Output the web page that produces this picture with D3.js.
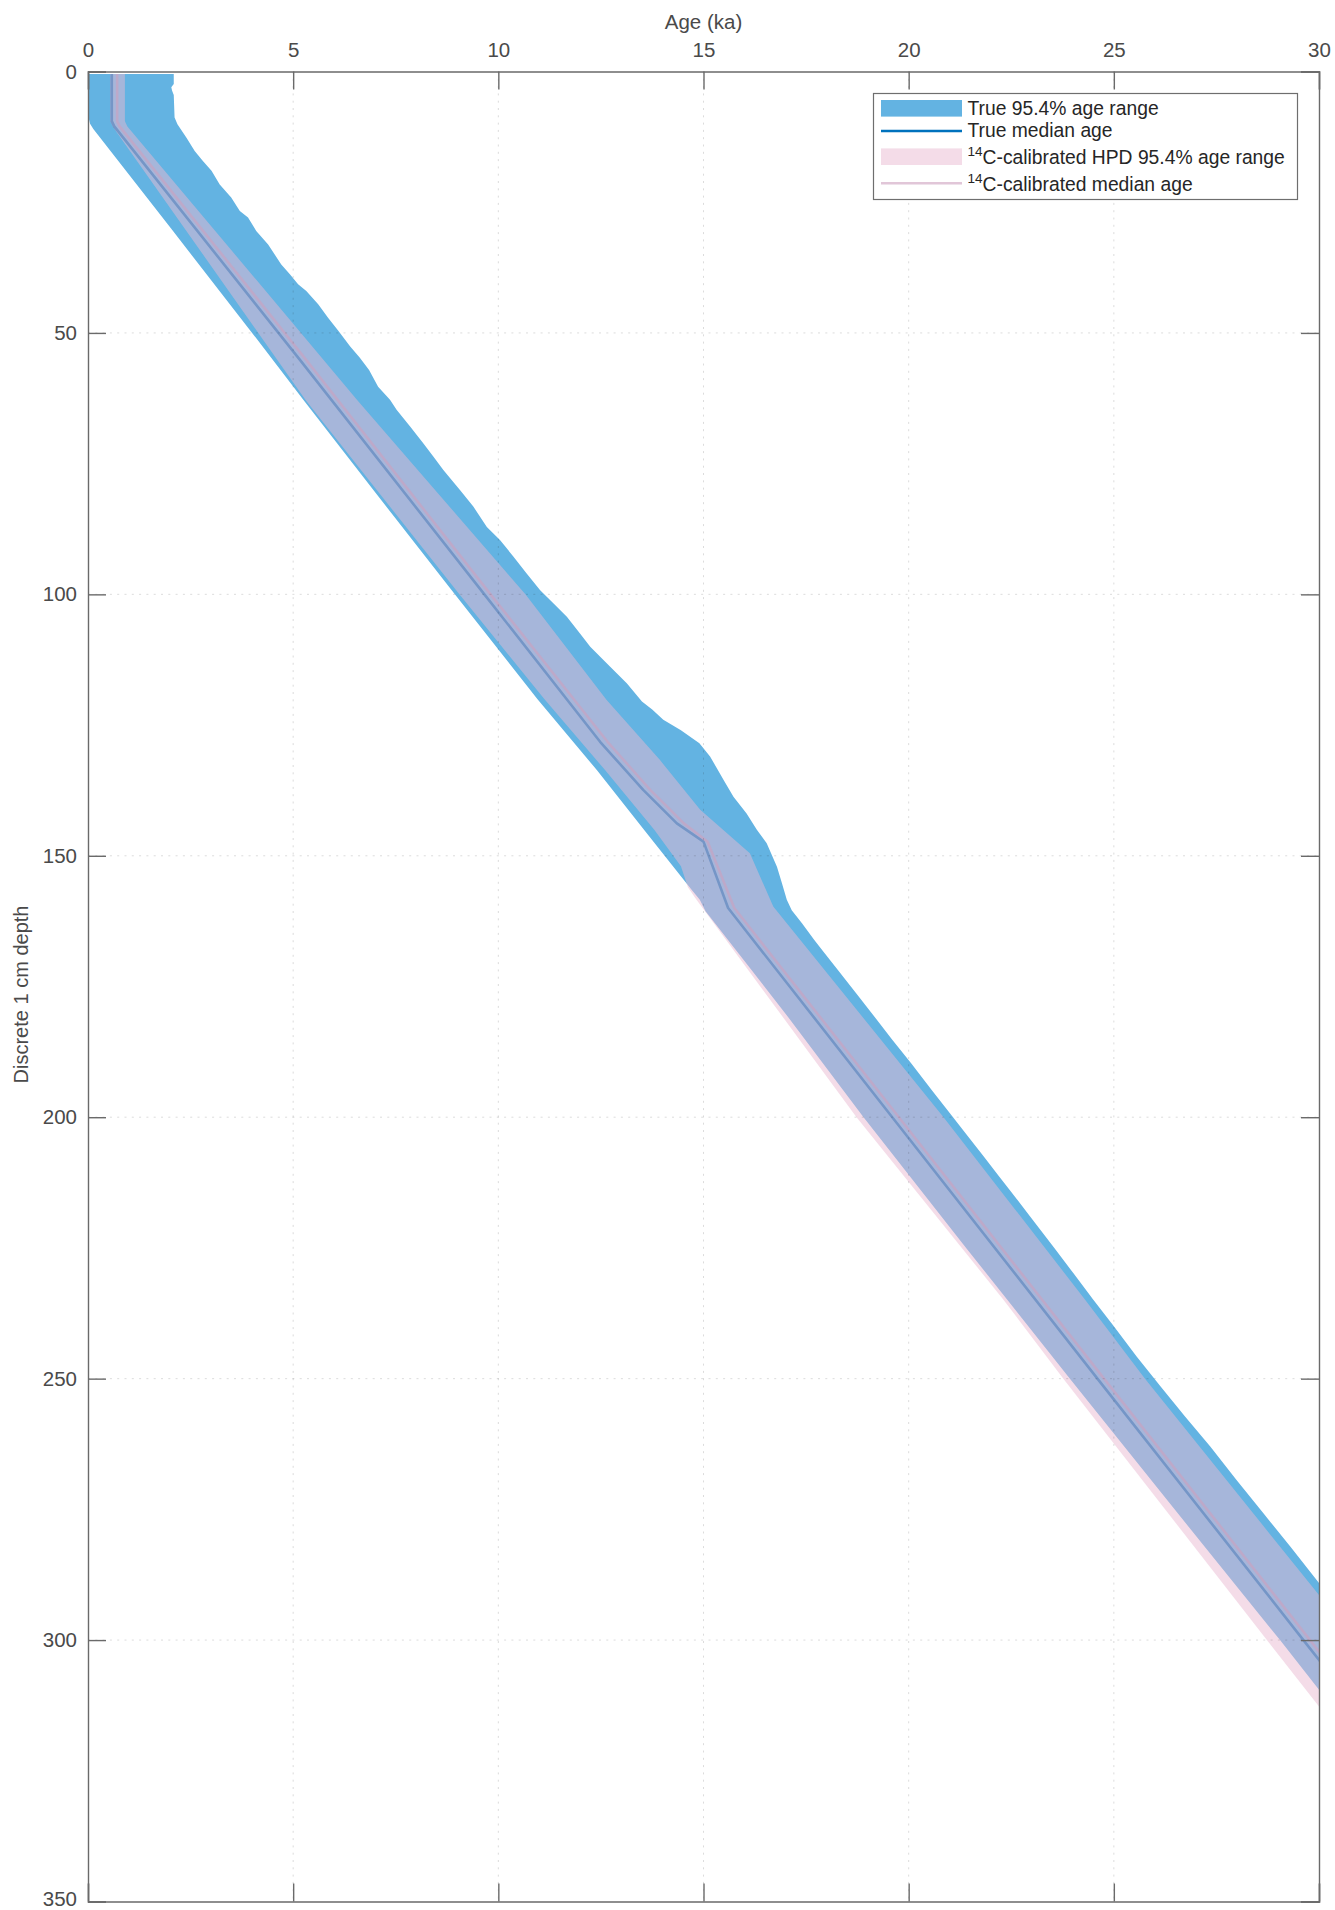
<!DOCTYPE html>
<html>
<head>
<meta charset="utf-8">
<script src="https://cdn.jsdelivr.net/npm/d3@7"></script>
<style>
  html, body { margin: 0; padding: 0; background: #fff; }
  svg { display: block; font-family: "Liberation Sans", Arial, Helvetica, sans-serif; }
</style>
</head>
<body>
<svg id="chart" width="1335" height="1910"></svg>
<script>
// ---- Age-depth model data (depth in cm, age in ka) ----

// True 95.4% range: older (right) edge
const trueHiDepth = [0.5, 2.4, 3.0, 3.7, 4.5, 8.8, 10.1, 12.65, 15.2, 17.1, 19.0, 21.6, 24.1, 26.7, 27.9, 30.5, 33.1, 35.0, 36.9, 38.8, 40.7, 42.0, 44.5, 47.1, 49.6, 52.6, 54.7, 57.1, 60.3, 62.8, 64.7, 67.9, 71.1, 73.7, 76.2, 80.1, 83.2, 87.1, 89.6, 92.8, 96.0, 99.2, 101.7, 104.3, 107.5, 110.0, 113.8, 117.0, 120.5, 122.0, 124.0, 126.0, 128.5, 131.0, 135.5, 138.7, 141.9, 145.0, 147.6, 152.1, 155.2, 158.4, 160.4, 162.9, 166.1, 168.1, 171.8, 176.3, 180.2, 185.2, 189.7, 194.9, 199.3, 203.2, 207.5, 211.4, 215.3, 219.7, 225.0, 230.0, 234.9, 240.0, 245.8, 251.5, 257.3, 263.0, 269.4, 275.8, 282.1, 289.1, 300.0, 320.0];
const trueHiAge = [2.09, 2.09, 2.03, 2.05, 2.09, 2.11, 2.18, 2.40, 2.60, 2.80, 3.01, 3.21, 3.49, 3.70, 3.90, 4.10, 4.39, 4.55, 4.71, 4.92, 5.12, 5.32, 5.61, 5.85, 6.10, 6.39, 6.62, 6.85, 7.07, 7.36, 7.52, 7.85, 8.17, 8.42, 8.66, 9.07, 9.39, 9.72, 10.04, 10.37, 10.69, 11.02, 11.34, 11.67, 11.99, 12.24, 12.72, 13.13, 13.50, 13.75, 14.02, 14.45, 14.90, 15.16, 15.49, 15.73, 16.05, 16.30, 16.54, 16.79, 16.91, 17.03, 17.15, 17.40, 17.70, 17.90, 18.27, 18.72, 19.11, 19.60, 20.06, 20.57, 21.01, 21.40, 21.83, 22.21, 22.60, 23.03, 23.55, 24.03, 24.50, 25.00, 25.56, 26.14, 26.74, 27.35, 27.99, 28.65, 29.30, 30.00, 31.10, 33.10];

// True 95.4% range: younger (left) edge
const trueLoDepth = [0.5, 9.0, 10.0, 11.0, 30.0, 50.0, 63.0, 80.0, 100.0, 120.0, 133.6, 145.0, 156.5, 158.4, 160.6, 180.0, 200.0, 225.0, 250.0, 275.0, 300.0, 320.0];
const trueLoAge = [0.02, 0.02, 0.05, 0.13, 2.02, 4.00, 5.27, 6.95, 8.94, 10.95, 12.40, 13.55, 14.71, 14.91, 15.05, 16.98, 18.90, 21.40, 23.93, 26.48, 29.05, 31.05];

// True median age
const trueMedDepth = [0.5, 9.5, 10.5, 55.2, 100.0, 128.2, 137.4, 143.8, 147.3, 160.0, 200.0, 250.0, 300.0, 320.0];
const trueMedAge = [0.58, 0.58, 0.64, 5.17, 9.66, 12.48, 13.53, 14.35, 15.00, 15.60, 19.60, 24.60, 29.62, 31.62];

// 14C-calibrated HPD 95.4% range: older (right) edge
const calHiDepth = [0.5, 9.5, 10.5, 63.0, 100.0, 120.2, 131.7, 141.2, 149.5, 159.7, 200.0, 234.9, 250.0, 291.4, 320.0];
const calHiAge = [0.90, 0.90, 0.96, 6.58, 10.66, 12.64, 13.94, 14.92, 16.13, 16.70, 20.85, 24.30, 25.76, 30.00, 32.90];

// 14C-calibrated HPD 95.4% range: younger (left) edge
const calLoDepth = [0.5, 9.5, 10.5, 50.0, 63.0, 100.0, 120.0, 133.6, 145.0, 152.0, 156.0, 158.4, 200.0, 234.9, 250.0, 300.0, 320.0];
const calLoAge = [0.54, 0.54, 0.60, 4.15, 5.32, 9.05, 11.12, 12.60, 13.80, 14.45, 14.62, 14.83, 18.73, 22.31, 23.77, 28.73, 30.73];

// 14C-calibrated median age
const calMedDepth = [0.5, 9.5, 10.5, 55.2, 100.0, 128.2, 137.4, 143.8, 147.3, 160.0, 200.0, 250.0, 300.0, 320.0];
const calMedAge = [0.71, 0.71, 0.77, 5.32, 9.81, 12.66, 13.70, 14.52, 15.10, 15.75, 19.76, 24.76, 29.78, 31.78];

// Axis ticks
const ageTicks = [0, 5, 10, 15, 20, 25, 30];
const depthTicks = [0, 50, 100, 150, 200, 250, 300, 350];

// Legend entries
const legendLabels = [
  { sup: "", text: "True 95.4% age range" },
  { sup: "", text: "True median age" },
  { sup: "14", text: "C-calibrated HPD 95.4% age range" },
  { sup: "14", text: "C-calibrated median age" }
];

// ---- Styling ----
const blueFill = "rgb(99,179,226)";
const blueLine = "#0072BD";
const pinkFill = "rgb(233,186,210)";
const pinkAlpha = 0.5;
const pinkLine = "rgb(205,160,190)";
const pinkLineAlpha = 0.6;
const axisColor = "#6a6a6a";
const textColor = "#4a4a4a";

const svg = d3.select("#chart");
const plotL = 88, plotR = 1319, plotT = 71.5, plotB = 1901.5;

const x = d3.scaleLinear().domain([0, 30]).range([plotL, plotR]);
const y = d3.scaleLinear().domain([0, 350]).range([plotT, plotB]);

svg.append("defs").append("clipPath").attr("id", "plotClip")
  .append("rect").attr("x", plotL).attr("y", plotT)
  .attr("width", plotR - plotL).attr("height", plotB - plotT);

const plot = svg.append("g").attr("clip-path", "url(#plotClip)");

const zip = (ds, as) => ds.map((d, i) => [as[i], d]);
const line = d3.line().x(p => x(p[0])).y(p => y(p[1]));

function band(hiD, hiA, loD, loA) {
  const pts = zip(hiD, hiA).concat(zip(loD, loA).reverse());
  return line(pts) + "Z";
}

// True range band
plot.append("path")
  .attr("d", band(trueHiDepth, trueHiAge, trueLoDepth, trueLoAge))
  .attr("fill", blueFill);

// True median
plot.append("path")
  .attr("d", line(zip(trueMedDepth, trueMedAge)))
  .attr("fill", "none").attr("stroke", blueLine).attr("stroke-width", 2.6)
  .attr("stroke-linejoin", "round");

// Calibrated HPD band (semi-transparent)
plot.append("path")
  .attr("d", band(calHiDepth, calHiAge, calLoDepth, calLoAge))
  .attr("fill", pinkFill).attr("fill-opacity", pinkAlpha);

// Calibrated median
plot.append("path")
  .attr("d", line(zip(calMedDepth, calMedAge)))
  .attr("fill", "none").attr("stroke", pinkLine).attr("stroke-opacity", pinkLineAlpha)
  .attr("stroke-width", 2.6).attr("stroke-linejoin", "round");

// Dotted grid, drawn above the data
const grid = svg.append("g").attr("stroke", "rgba(38,38,38,0.16)")
  .attr("stroke-width", 1).attr("stroke-dasharray", "2,5.3");
ageTicks.filter(t => t > 0 && t < 30).forEach(t => {
  grid.append("line").attr("x1", x(t)).attr("x2", x(t)).attr("y1", plotT).attr("y2", plotB);
});
depthTicks.filter(t => t > 0 && t < 350).forEach(t => {
  grid.append("line").attr("x1", plotL).attr("x2", plotR).attr("y1", y(t)).attr("y2", y(t));
});

// Axes: top age axis, left depth axis, mirrored ticks on the other sides
const tickLen = 18;
const xTop = d3.axisTop(x).tickValues(ageTicks).tickSize(-tickLen).tickPadding(14.5).tickFormat(d3.format("d"));
const xBot = d3.axisBottom(x).tickValues(ageTicks).tickSize(-tickLen).tickFormat("");
const yLeft = d3.axisLeft(y).tickValues(depthTicks).tickSize(-tickLen).tickPadding(11).tickFormat(d3.format("d"));
const yRight = d3.axisRight(y).tickValues(depthTicks).tickSize(-tickLen).tickFormat("");

function styleAxis(g) {
  g.selectAll("path").attr("stroke", axisColor).attr("stroke-width", 1.4);
  g.selectAll("line").attr("stroke", axisColor).attr("stroke-width", 1.4);
  g.selectAll("text").attr("fill", textColor).style("font-size", "20.5px")
    .style("font-family", "'Liberation Sans', Arial, Helvetica, sans-serif");
}

svg.append("g").attr("transform", `translate(0,${plotT})`).call(xTop).call(styleAxis);
svg.append("g").attr("transform", `translate(0,${plotB})`).call(xBot).call(styleAxis);
const yAxisG = svg.append("g").attr("transform", `translate(${plotL},0)`).call(yLeft).call(styleAxis);
// keep the bottom-most label inside the page
yAxisG.selectAll(".tick text").filter(d => d === 350).attr("dy", "0.18em");
svg.append("g").attr("transform", `translate(${plotR},0)`).call(yRight).call(styleAxis);

// Axis titles
svg.append("text").attr("x", (plotL + plotR) / 2).attr("y", 29)
  .attr("text-anchor", "middle").attr("fill", textColor).style("font-size", "20.5px")
  .text("Age (ka)");
svg.append("text").attr("transform", `translate(28,${(plotT + plotB) / 2 + 8}) rotate(-90)`)
  .attr("text-anchor", "middle").attr("fill", textColor).style("font-size", "20px")
  .text("Discrete 1 cm depth");

// Legend
const lg = svg.append("g");
lg.append("rect").attr("x", 873.5).attr("y", 93.5).attr("width", 424).attr("height", 106)
  .attr("fill", "#fff").attr("stroke", "#6e6e6e").attr("stroke-width", 1.2);

const rowMid = [108.3, 131, 156.7, 183.3];
const rowBase = [114.5, 137, 163.5, 190.5];
const sx0 = 881, sx1 = 962;

lg.append("rect").attr("x", sx0).attr("y", rowMid[0] - 8.3).attr("width", sx1 - sx0).attr("height", 16.6)
  .attr("fill", blueFill);
lg.append("line").attr("x1", sx0).attr("x2", sx1).attr("y1", rowMid[1]).attr("y2", rowMid[1])
  .attr("stroke", blueLine).attr("stroke-width", 2.6);
lg.append("rect").attr("x", sx0).attr("y", rowMid[2] - 8.3).attr("width", sx1 - sx0).attr("height", 16.6)
  .attr("fill", pinkFill).attr("fill-opacity", pinkAlpha);
lg.append("line").attr("x1", sx0).attr("x2", sx1).attr("y1", rowMid[3]).attr("y2", rowMid[3])
  .attr("stroke", pinkLine).attr("stroke-opacity", pinkLineAlpha).attr("stroke-width", 2.6);

legendLabels.forEach((L, i) => {
  const t = lg.append("text").attr("x", 967.5).attr("y", rowBase[i])
    .attr("fill", "#262626").style("font-size", "19.3px");
  if (L.sup) {
    t.append("tspan").attr("dy", -8).style("font-size", "13.5px").text(L.sup);
    t.append("tspan").attr("dy", 8).text(L.text);
  } else {
    t.text(L.text);
  }
});
</script>
</body>
</html>
